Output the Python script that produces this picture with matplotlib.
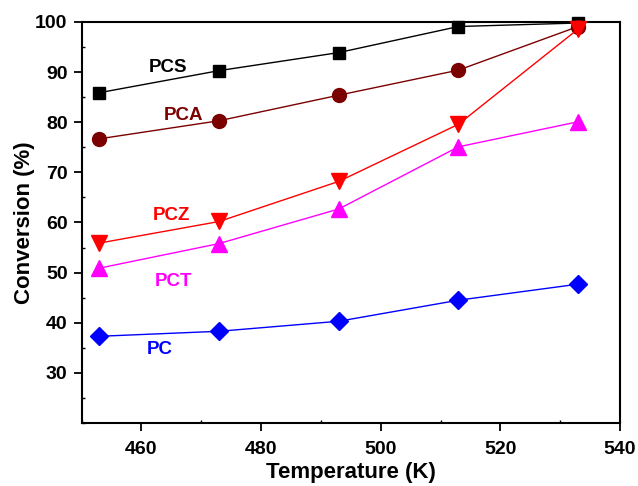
import matplotlib
matplotlib.use('Agg')
import matplotlib.pyplot as plt
from matplotlib.ticker import MultipleLocator

plt.rcParams['font.family'] = ['Liberation Sans', 'DejaVu Sans']
plt.rcParams['font.weight'] = 'bold'

temp = [453, 473, 493, 513, 533]
pcs = [85.9, 90.3, 93.9, 99.1, 99.8]
pca = [76.7, 80.3, 85.4, 90.4, 99.1]
pcz = [55.9, 60.2, 68.2, 79.6, 98.6]
pct = [50.9, 55.8, 62.7, 75.1, 80.1]
pc = [37.3, 38.3, 40.3, 44.5, 47.7]

series = [
    ('PCS', pcs, 'black', 's', 9, (464.5, 91.0)),
    ('PCA', pca, '#7b0000', 'o', 10, (467.0, 81.4)),
    ('PCZ', pcz, 'red', 'v', 11, (465.1, 61.3)),
    ('PCT', pct, 'magenta', '^', 11, (465.3, 48.3)),
    ('PC', pc, 'blue', 'D', 9, (463.0, 34.7)),
]

fig = plt.figure(figsize=(6.38, 4.86), dpi=100)
ax = fig.add_axes([81.5 / 638, 63 / 486, 538.5 / 638, 401 / 486])

for name, vals, col, mk, ms, pos in series:
    ax.plot(temp, vals, '-', color=col, lw=1, marker=mk, ms=ms,
            mfc=col, mec=col, clip_on=False, zorder=3)
    ax.text(pos[0], pos[1], name, color=col, fontsize=13.5, fontweight='bold',
            ha='center', va='center')

ax.set_xlim(450, 540)
ax.set_ylim(20, 100)
ax.xaxis.set_major_locator(MultipleLocator(20))
ax.xaxis.set_minor_locator(MultipleLocator(10))
ax.yaxis.set_major_locator(MultipleLocator(10))
ax.yaxis.set_minor_locator(MultipleLocator(5))
ax.set_yticks(range(30, 101, 10))

for s in ax.spines.values():
    s.set_linewidth(1.5)
ax.tick_params(which='major', direction='out', length=6, width=1.3,
               labelsize=14, pad=4)
ax.tick_params(axis='x', which='major', pad=7)
ax.tick_params(which='minor', direction='in', length=2.5, width=1)
for lbl in ax.get_xticklabels() + ax.get_yticklabels():
    lbl.set_fontweight('bold')

ax.set_xlabel('Temperature (K)', fontsize=16, fontweight='bold', labelpad=3)
ax.set_ylabel('Conversion (%)', fontsize=16, fontweight='bold', labelpad=0)

fig.savefig('out.png', dpi=100)
